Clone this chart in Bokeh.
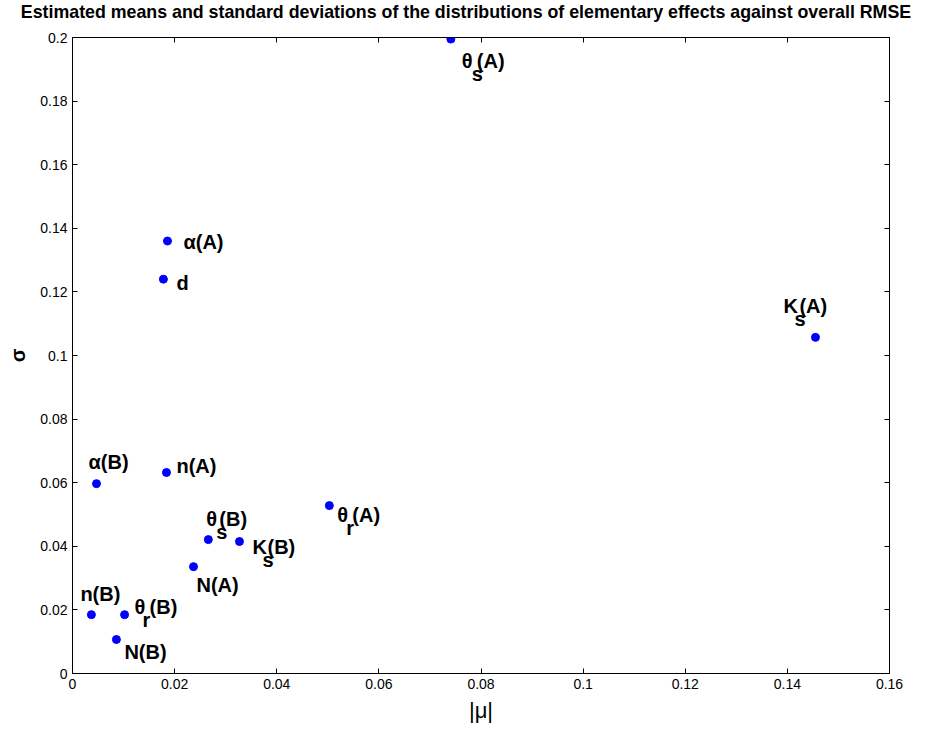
from bokeh.plotting import figure
from bokeh.models import ColumnDataSource, LinearAxis, FixedTicker, Range1d, Div
from bokeh.layouts import column
from bokeh.core.properties import value
from bokeh.embed import file_html
from bokeh.resources import INLINE

# ---- data ----
mu = [0.0741, 0.0186, 0.0178, 0.1455, 0.0047, 0.0184, 0.0503, 0.0266, 0.0327, 0.0237, 0.0037, 0.0102, 0.0086]
sigma = [0.1995, 0.1360, 0.1240, 0.1057, 0.0597, 0.0632, 0.0528, 0.0421, 0.0415, 0.0336, 0.0185, 0.0185, 0.0107]
label_main = ["θ", "α(A)", "d", "K", "α(B)", "n(A)", "θ", "θ", "K", "N(A)", "n(B)", "θ", "N(B)"]
label_sub = ["s", "", "", "s", "", "", "r", "s", "s", "", "", "r", ""]
label_suffix = ["(A)", "", "", "(A)", "", "", "(A)", "(B)", "(B)", "", "", "(B)", ""]

x_ticks = [0, 0.02, 0.04, 0.06, 0.08, 0.1, 0.12, 0.14, 0.16]
x_tick_labels = ["0", "0.02", "0.04", "0.06", "0.08", "0.1", "0.12", "0.14", "0.16"]
y_ticks = [0, 0.02, 0.04, 0.06, 0.08, 0.1, 0.12, 0.14, 0.16, 0.18, 0.2]
y_tick_labels = ["0", "0.02", "0.04", "0.06", "0.08", "0.1", "0.12", "0.14", "0.16", "0.18", "0.2"]

title = "Estimated means and standard deviations of the distributions of elementary effects against overall RMSE"

# ---- label placement (pixel offsets relative to each point) ----
lab_dx = [11, 16, 13, -32, -8, 10, 8, -2, 13, 3, -11, 10, 8]
lab_dy = [22, 1, 4, -31, -22, -7, 9, -21, 5, 18, -21, -8, 13]
sub_dx = [10, 0, 0, 11, 0, 0, 9, 10, 10, 0, 0, 8, 0]
suf_dx = [15, 0, 0, 16, 0, 0, 15, 13, 15, 0, 0, 15, 0]

src = ColumnDataSource(dict(
    mu=mu, sigma=sigma, main=label_main, sub=label_sub, suffix=label_suffix,
    mdx=lab_dx, mdy=lab_dy,
    sdx=[a + b for a, b in zip(lab_dx, sub_dx)], sdy=[a + 13 for a in lab_dy],
    fdx=[a + b for a, b in zip(lab_dx, suf_dx)],
))

FONT = "Liberation Sans"
TITLE_H = 24

header = Div(text=title, width=926, height=TITLE_H, margin=(0, 0, 0, 0),
             styles={"font-family": FONT, "font-size": "17.8px", "font-weight": "bold",
                     "text-align": "center", "line-height": f"{TITLE_H}px", "color": "black",
                     "white-space": "nowrap", "padding-left": "6px", "box-sizing": "border-box"})

p = figure(width=926, height=729 - TITLE_H, output_backend="svg", toolbar_location=None,
           x_range=Range1d(x_ticks[0], x_ticks[-1]), y_range=Range1d(y_ticks[0], y_ticks[-1]),
           min_border_left=72, min_border_right=37, min_border_top=37 - TITLE_H, min_border_bottom=56,
           margin=(0, 0, 0, 0))
p.background_fill_color = "white"
p.border_fill_color = "white"
p.outline_line_color = "black"
p.xgrid.visible = False
p.ygrid.visible = False
p.title.visible = False

for ax, ticks, labels in ((p.xaxis[0], x_ticks, x_tick_labels), (p.yaxis[0], y_ticks, y_tick_labels)):
    ax.ticker = FixedTicker(ticks=ticks)
    ax.major_label_overrides = {t: l for t, l in zip(ticks, labels)}
    ax.major_tick_in = 5
    ax.major_tick_out = 0
    ax.minor_tick_line_color = None
    ax.major_label_text_font = FONT
    ax.major_label_text_font_size = "14px"
    ax.major_label_text_color = "black"
    ax.axis_line_color = "black"
    ax.major_tick_line_color = "black"
    ax.major_label_standoff = 5
    ax.axis_label_text_color = "black"

p.xaxis.axis_label = "|μ|"
p.xaxis.axis_label_text_font = FONT
p.xaxis.axis_label_text_font_size = "22px"
p.xaxis.axis_label_text_font_style = "normal"
p.xaxis.axis_label_standoff = 6
p.yaxis.axis_label = "σ"
p.yaxis.axis_label_text_font = FONT
p.yaxis.axis_label_text_font_size = "20px"
p.yaxis.axis_label_text_font_style = "bold"
p.yaxis.axis_label_standoff = 8

for loc, ticks in (("above", x_ticks), ("right", y_ticks)):
    ax = LinearAxis(ticker=FixedTicker(ticks=ticks), major_label_text_font_size="1px",
                    major_label_text_color=None,
                    major_label_standoff=0, major_tick_in=5, major_tick_out=0,
                    minor_tick_line_color=None, axis_line_color="black",
                    major_tick_line_color="black")
    p.add_layout(ax, loc)

p.scatter("mu", "sigma", source=src, size=8, color="#0000ff", line_color="#0000ff")

common = dict(source=src, text_font=value(FONT), text_font_size="20px", text_font_style="bold",
              text_color="black", text_baseline="middle", text_align="left")
p.text("mu", "sigma", text="main", x_offset="mdx", y_offset="mdy", **common)
p.text("mu", "sigma", text="sub", x_offset="sdx", y_offset="sdy", **common)
p.text("mu", "sigma", text="suffix", x_offset="fdx", y_offset="mdy", **common)

layout = column(header, p, spacing=0, margin=(0, 0, 0, 0))
open("out.html", "w").write(file_html(layout, INLINE))
